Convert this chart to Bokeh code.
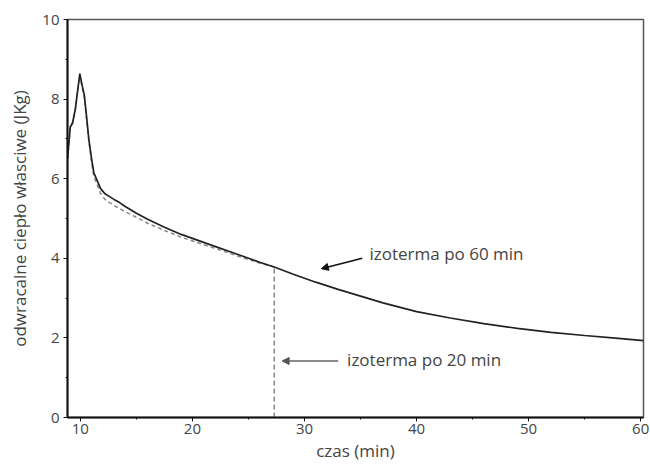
from bokeh.plotting import figure
from bokeh.models import Range1d, Arrow, NormalHead, Label, FixedTicker
from bokeh.embed import file_html
from bokeh.resources import INLINE

# isotherm after 60 min (solid)
t60 = [8.85, 9.1, 9.3, 9.55, 9.75, 9.95, 10.15, 10.35, 10.5, 10.75, 11.0, 11.2, 11.5, 11.8,
       12.2, 12.6, 13.0, 13.5, 14.0, 15.0, 16.0, 17.5, 19.0, 20.5, 22.0, 24.0, 26.0, 27.3,
       29.0, 31.0, 33.0, 35.0, 37.0, 40.0, 43.0, 46.0, 49.0, 52.0, 55.0, 58.0, 60.25]
c60 = [6.5, 7.3, 7.4, 7.75, 8.2, 8.64, 8.35, 8.1, 7.7, 7.0, 6.5, 6.15, 5.95, 5.75,
       5.62, 5.55, 5.48, 5.4, 5.3, 5.13, 4.98, 4.78, 4.6, 4.45, 4.3, 4.1, 3.9, 3.78,
       3.6, 3.4, 3.22, 3.05, 2.88, 2.66, 2.5, 2.36, 2.24, 2.14, 2.06, 1.99, 1.93]

# isotherm after 20 min (dashed)
t20 = [8.85, 9.1, 9.3, 9.55, 9.75, 9.95, 10.15, 10.35, 10.5, 10.75, 11.0, 11.2, 11.5, 11.8,
       12.2, 12.6, 13.0, 13.5, 14.0, 15.0, 16.0, 17.5, 19.0, 20.5, 22.0, 24.0, 26.0, 27.3]
c20 = [6.5, 7.3, 7.4, 7.75, 8.2, 8.6, 8.3, 8.05, 7.65, 6.95, 6.4, 6.05, 5.85, 5.63,
       5.48, 5.4, 5.33, 5.25, 5.17, 5.03, 4.88, 4.7, 4.53, 4.39, 4.25, 4.06, 3.88, 3.78]

x_ticks = [10, 20, 30, 40, 50, 60]
y_ticks = [0, 2, 4, 6, 8, 10]
label60 = "izoterma po 60 min"
label20 = "izoterma po 20 min"
FONT = "Open Sans"
TXT = "#444444"

p = figure(width=650, height=466, output_backend="svg", toolbar_location=None,
           x_range=Range1d(8.85, 60.25), y_range=Range1d(0, 10),
           min_border_left=67, min_border_right=7, min_border_top=19, min_border_bottom=49,
           x_axis_label="czas (min)", y_axis_label="odwracalne ciepło własciwe (JKg)")
p.grid.visible = False
p.outline_line_color = "#555555"
p.outline_line_width = 1.5
p.background_fill_color = "white"
p.border_fill_color = "white"

for ax in (p.xaxis[0], p.yaxis[0]):
    ax.axis_line_color = "#111111"
    ax.axis_line_width = 2
    ax.major_tick_line_color = "#111111"
    ax.minor_tick_line_color = "#111111"
    ax.major_tick_out = 4
    ax.major_tick_in = 0
    ax.minor_tick_out = 2
    ax.minor_tick_in = 0
    ax.major_label_text_font = FONT
    ax.major_label_text_font_size = "15px"
    ax.major_label_text_color = TXT
    ax.axis_label_text_font = FONT
    ax.axis_label_text_font_size = "17px"
    ax.axis_label_text_font_style = "normal"
    ax.axis_label_text_color = TXT
p.xaxis.ticker = FixedTicker(ticks=x_ticks, minor_ticks=[15, 25, 35, 45, 55])
p.yaxis.ticker = FixedTicker(ticks=y_ticks, minor_ticks=[1, 3, 5, 7, 9])
p.xaxis.axis_label_standoff = 2
p.yaxis.axis_label_standoff = 8
p.xaxis.major_label_standoff = 2
p.yaxis.major_label_standoff = 4

p.line(t20, c20, line_color="#888888", line_width=1.5, line_dash="4 3")
p.line(t60, c60, line_color="#222222", line_width=1.7)
p.segment(x0=[t20[-1]], y0=[0], x1=[t20[-1]], y1=[c20[-1]],
          line_color="#888888", line_width=1.5, line_dash="5 3")

p.add_layout(Arrow(end=NormalHead(size=7, fill_color="#111111", line_color="#111111"),
                   x_start=35.15, y_start=4.0, x_end=31.5, y_end=3.74,
                   line_color="#111111", line_width=1.5))
p.add_layout(Arrow(end=NormalHead(size=7, fill_color="#555555", line_color="#555555"),
                   x_start=33.0, y_start=1.42, x_end=28.0, y_end=1.42,
                   line_color="#666666", line_width=1.5))

p.add_layout(Label(x=35.8, y=4.11, text=label60, text_font=FONT, text_font_size="17px",
                   text_color=TXT, text_baseline="middle"))
p.add_layout(Label(x=33.8, y=1.45, text=label20, text_font=FONT, text_font_size="17px",
                   text_color=TXT, text_baseline="middle"))

open("out.html", "w").write(file_html(p, INLINE))
